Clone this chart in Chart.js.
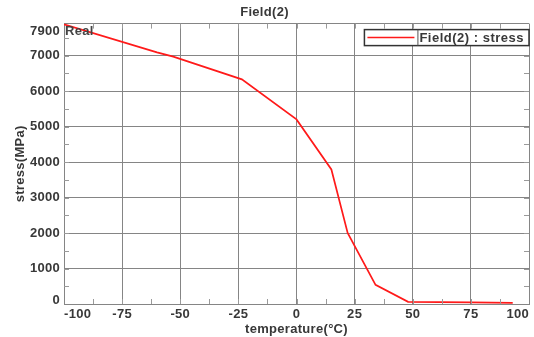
<!DOCTYPE html>
<html>
<head>
<meta charset="utf-8">
<script src="https://cdn.jsdelivr.net/npm/chart.js@4.4.1/dist/chart.umd.min.js"></script>
<style>
  html, body { margin: 0; padding: 0; background: #fff; }
  #wrap { width: 534px; height: 337px; position: relative; }
</style>
</head>
<body>
<div id="wrap"><canvas id="stress-chart"></canvas></div>
<script>
/* ── Data ── */
const temperature = [-100, -60, -53, -23.5, 0, 15, 22, 34, 48, 75, 93];
const stress      = [7880, 7090, 6970, 6330, 5200, 3790, 2000, 540, 60, 45, 30];
const xTicks = [-100, -75, -50, -25, 0, 25, 50, 75, 100];
const yTicks = [0, 1000, 2000, 3000, 4000, 5000, 6000, 7000, 7900];
const xMinorStep = 12.5;
const yMinorStep = 500;

const TEXT = '#383838';
const GRID = '#858585';
const FONT = "'Liberation Sans', Arial, sans-serif";

// ── Extra drawing: minor ticks, legend box, "Real" tag ──
const decorPlugin = {
  id: 'decor',
  beforeUpdate(chart) { chart.ctx.letterSpacing = '0.3px'; },
  beforeDraw(chart) { chart.ctx.letterSpacing = '0.3px'; },
  afterDraw(chart) {
    const { ctx, chartArea: a, scales: { x, y } } = chart;
    ctx.save();
    ctx.strokeStyle = '#9a9a9a';
    ctx.lineWidth = 1;
    ctx.beginPath();
    // small ticks along top and bottom
    for (let v = x.min + xMinorStep; v < x.max; v += xMinorStep) {
      const px = Math.round(x.getPixelForValue(v)) + 0.5;
      ctx.moveTo(px, a.bottom); ctx.lineTo(px, a.bottom - 5);
      ctx.moveTo(px, a.top); ctx.lineTo(px, a.top + 5);
    }
    // small ticks along left and right
    for (let v = yMinorStep; v < y.max; v += yMinorStep) {
      const py = Math.round(y.getPixelForValue(v)) + 0.5;
      ctx.moveTo(a.left, py); ctx.lineTo(a.left + 5, py);
      ctx.moveTo(a.right, py); ctx.lineTo(a.right - 5, py);
    }
    ctx.stroke();

    // "Real" in the corner
    ctx.fillStyle = '#444';
    ctx.font = `bold 13px ${FONT}`;
    ctx.letterSpacing = '0.3px';
    ctx.textBaseline = 'middle';
    ctx.textAlign = 'left';
    ctx.fillText('Real', a.left + 1, a.top + 8);

    // legend box, top right inside the plot
    const ds = chart.data.datasets[0];
    ctx.font = `bold 13px ${FONT}`;
    ctx.letterSpacing = '0.5px';
    const tw = ctx.measureText(ds.label).width;
    const boxW = tw + 60, boxH = 16;
    const bx = a.right - boxW, by = a.top + 6;
    ctx.fillStyle = '#fff';
    ctx.fillRect(bx, by, boxW, boxH);
    ctx.strokeStyle = '#333';
    ctx.lineWidth = 1.5;
    ctx.strokeRect(bx, by, boxW, boxH);
    ctx.strokeStyle = ds.borderColor;
    ctx.lineWidth = 1.5;
    ctx.beginPath();
    ctx.moveTo(bx + 3, by + boxH / 2);
    ctx.lineTo(bx + 50, by + boxH / 2);
    ctx.stroke();
    ctx.strokeStyle = '#555';
    ctx.lineWidth = 1;
    ctx.beginPath();
    ctx.moveTo(bx + 53.5, by); ctx.lineTo(bx + 53.5, by + boxH);
    ctx.stroke();
    ctx.fillStyle = TEXT;
    ctx.fillText(ds.label, bx + 55, by + boxH / 2 + 0.5);
    ctx.restore();
  }
};

// end labels on the y axis are nudged inward so they stay beside the plot
const yEndShift = { 0: '8px', 7900: '15px' };

const ctx = document.getElementById('stress-chart').getContext('2d');
new Chart(ctx, {
  type: 'line',
  data: {
    datasets: [{
      label: 'Field(2) : stress',
      data: temperature.map((t, i) => ({ x: t, y: stress[i] })),
      borderColor: '#ff1a1a',
      borderWidth: 1.7,
      pointRadius: 0,
      tension: 0,
      fill: false
    }]
  },
  options: {
    responsive: true,
    maintainAspectRatio: false,
    animation: false,
    layout: { padding: { left: 0, right: 5, top: 0, bottom: 0 } },
    plugins: {
      legend: { display: false },
      tooltip: { enabled: false },
      title: {
        display: true,
        text: 'Field(2)',
        color: TEXT,
        font: { family: FONT, size: 13, weight: 'bold', lineHeight: 1.2 },
        padding: { top: 5, bottom: 3 }
      }
    },
    scales: {
      x: {
        type: 'linear',
        min: -100, max: 100,
        afterBuildTicks: s => { s.ticks = xTicks.map(v => ({ value: v })); },
        afterFit: s => { s.height = 33; },
        grid: { color: GRID, lineWidth: 1, drawTicks: false },
        border: { color: '#858585', width: 1 },
        ticks: {
          align: 'inner',
          padding: 3,
          maxRotation: 0,
          color: TEXT,
          font: { family: FONT, size: 13, weight: 'bold' }
        },
        title: {
          display: true,
          text: 'temperature(°C)',
          color: TEXT,
          font: { family: FONT, size: 13, weight: 'bold', lineHeight: 1.2 },
          padding: { top: 0, bottom: 0 }
        }
      },
      y: {
        type: 'linear',
        min: 0, max: 7900,
        afterBuildTicks: s => { s.ticks = yTicks.map(v => ({ value: v })); },
        afterFit: s => { s.width = 64; },
        grid: { color: GRID, lineWidth: 1, drawTicks: false },
        border: { color: '#858585', width: 1 },
        ticks: {
          padding: 4,
          color: TEXT,
          callback: v => v === 0 ? [String(v), ''] : v === 7900 ? ['', String(v)] : String(v),
          font: c => ({
            family: FONT, size: 13, weight: 'bold',
            lineHeight: (c.tick && yEndShift[c.tick.value]) || 1.2
          })
        },
        title: {
          display: true,
          text: 'stress(MPa)',
          color: TEXT,
          font: { family: FONT, size: 13, weight: 'bold', lineHeight: 1.2 },
          padding: { top: 13, bottom: 0 }
        }
      }
    }
  },
  plugins: [decorPlugin]
});
</script>
</body>
</html>
